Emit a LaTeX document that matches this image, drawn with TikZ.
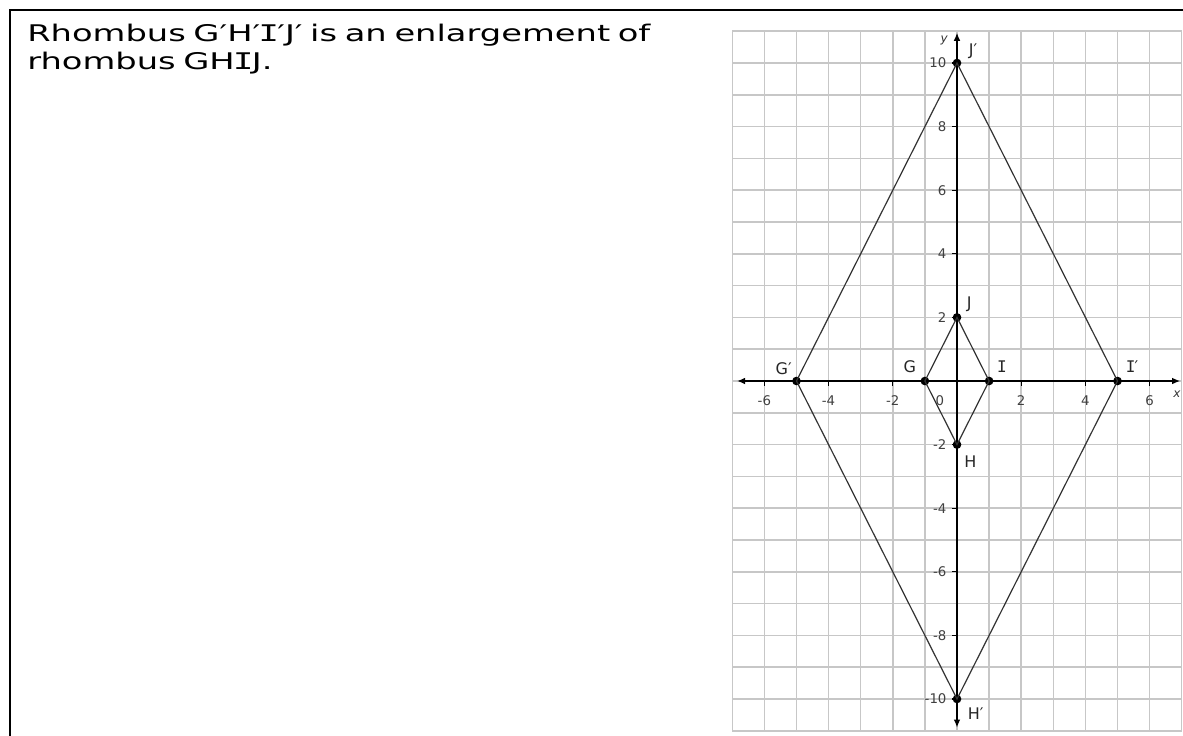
\documentclass[tikz,border=0pt]{standalone}
\usepackage{fontspec}
\setmainfont{DejaVu Sans}
\newfontfamily\monoI{DejaVu Sans Mono}
\newfontfamily\promptfont[FakeStretch=1.47]{DejaVu Sans}
\newfontfamily\promptmonoI[FakeStretch=1.47]{DejaVu Sans Mono}
\usetikzlibrary{arrows.meta}
% Verdana-like capital I with bars
\newcommand{\barI}{\kern-0.07em{\monoI I}\kern-0.07em}
\newcommand{\wideI}{\kern-0.07em{\promptmonoI I}\kern-0.07em}

\begin{document}
\begin{tikzpicture}[x=0.75pt, y=-0.75pt,
  frameline/.style={line width=1.6pt, black},
  gridline/.style={line width=1.1pt, black!22},
  axisline/.style={line width=1.1pt, black, {Latex[length=6pt,width=5pt]}-{Latex[length=6pt,width=5pt]}},
  shapeline/.style={line width=0.9pt, black!80},
  dot/.style={circle, fill=black, inner sep=0pt, minimum size=6.5pt},
  ticklbl/.style={font=\fontsize{10pt}{12pt}\selectfont, text=black!75, inner sep=0pt},
  ptlbl/.style={font=\fontsize{12pt}{14pt}\selectfont, text=black!85, inner sep=0pt},
  axislbl/.style={font=\fontsize{9pt}{11pt}\selectfont\itshape, text=black!80, inner sep=0pt}]
  \useasboundingbox (0,0) rectangle (1183,736);

  % Frame
  \draw[frameline] (1183,10) -- (10,10) -- (10,736);

  % Prompt
  \node[anchor=base west, inner sep=0pt, text width=520pt, align=left, font=\promptfont\fontsize{17.2pt}{21.5pt}\selectfont] (prompt) at (27,41)
    {Rhombus G′H′\wideI′J′ is an enlargement of\\rhombus GH\wideI J.};

  \begin{scope}[shift={(717.75pt,-285.75pt)}, x=24.08pt, y=23.85pt]
    % Grid and axes
    \draw[gridline, step=1] (-7,-11) grid (7,11);
    \coordinate (xmin) at (-6.85,0);
    \coordinate (xmax) at (6.95,0);
    \coordinate (ymin) at (0,-10.9);
    \coordinate (ymax) at (0,10.95);
    \draw[axisline] (xmin) -- (xmax);
    \draw[axisline] (ymin) -- (ymax);
    \node[axislbl] (xlbl) at (6.85,-0.4) {x};
    \node[axislbl] (ylbl) at (-0.4,10.7) {y};

    % Ticks
    \foreach \t in {-6,-4,-2,2,4,6} {
      \draw[line width=0.8pt] (\t,0) -- (\t,-0.16);
      \node[ticklbl] (xt\t) at (\t,-0.62) {\t};
    }
    \foreach \t in {-10,-8,-6,-4,-2,2,4,6,8,10} {
      \draw[line width=0.8pt] (0,\t) -- (-0.16,\t);
      \node[ticklbl, anchor=east] (yt\t) at (-0.32,\t) {\t};
    }
    \node[ticklbl] (zero) at (-0.53,-0.62) {0};

    % Image rhombus G'H'I'J'
    \node[dot] (Gp) at (-5,0) {};
    \node[dot] (Hp) at (0,-10) {};
    \node[dot] (Ip) at (5,0) {};
    \node[dot] (Jp) at (0,10) {};
    \draw[shapeline] (Gp.center) -- (Hp.center) -- (Ip.center) -- (Jp.center) -- cycle;

    % Rhombus GHIJ
    \node[dot] (G) at (-1,0) {};
    \node[dot] (H) at (0,-2) {};
    \node[dot] (I) at (1,0) {};
    \node[dot] (J) at (0,2) {};
    \draw[shapeline] (G.center) -- (H.center) -- (I.center) -- (J.center) -- cycle;

    % Point labels
    \node[ptlbl] (Gplbl) at (-5.4,0.38) {G′};
    \node[ptlbl] (Hplbl) at (0.58,-10.45) {H′};
    \node[ptlbl] (Iplbl) at (5.47,0.44) {\barI′};
    \node[ptlbl] (Jplbl) at (0.5,10.38) {J′};
    \node[ptlbl] (Glbl) at (-1.47,0.44) {G};
    \node[ptlbl] (Hlbl) at (0.42,-2.55) {H};
    \node[ptlbl] (Ilbl) at (1.4,0.44) {\barI};
    \node[ptlbl] (Jlbl) at (0.38,2.4) {J};
  \end{scope}
\end{tikzpicture}
\end{document}
